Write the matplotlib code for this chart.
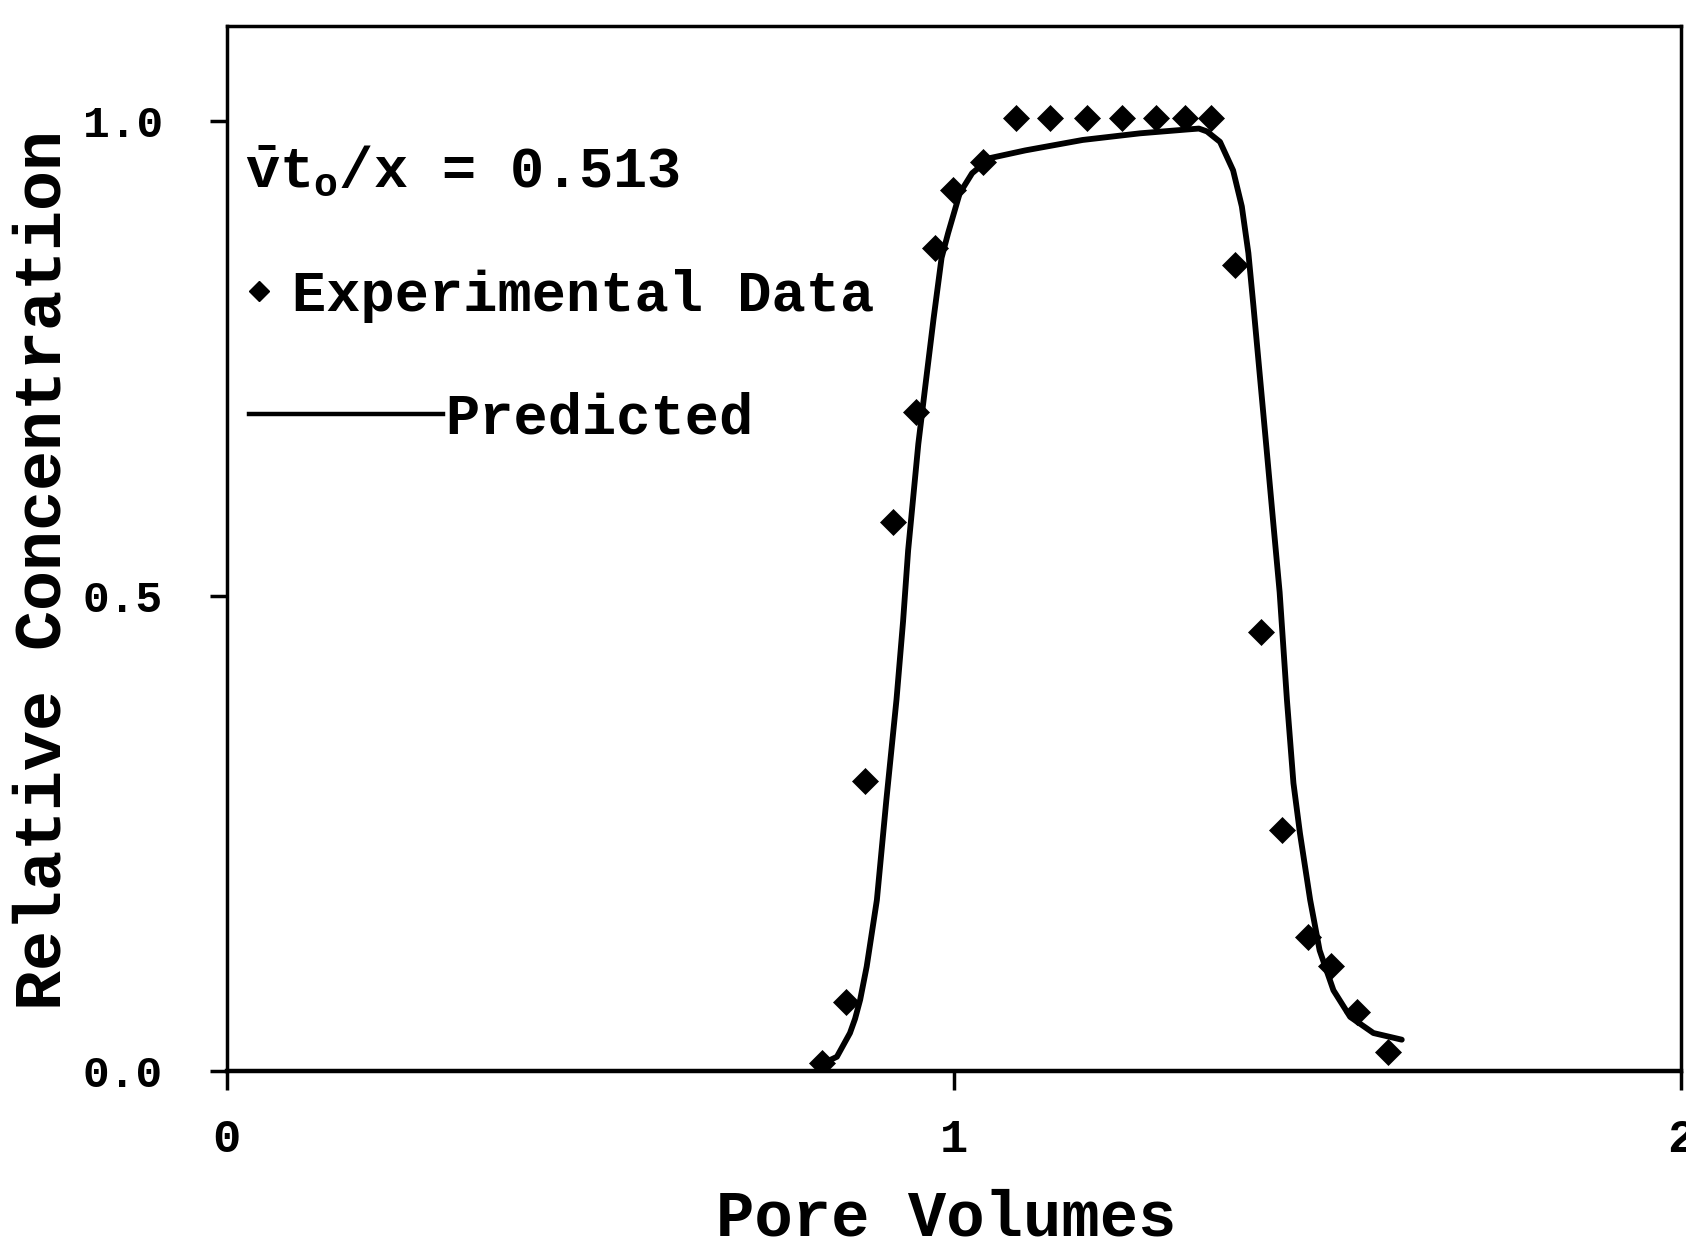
import matplotlib
matplotlib.use('Agg')
import matplotlib.pyplot as plt
from matplotlib.lines import Line2D

# breakthrough data: relative concentration vs pore volumes
exp_x = [0.818, 0.851, 0.877, 0.916, 0.948, 0.974, 0.999, 1.040,
         1.085, 1.132, 1.183, 1.231, 1.278, 1.318, 1.353,
         1.386, 1.422, 1.451, 1.487, 1.518, 1.554, 1.597]
exp_y = [0.008, 0.073, 0.305, 0.578, 0.694, 0.866, 0.927, 0.957,
         1.003, 1.003, 1.003, 1.003, 1.003, 1.003, 1.003,
         0.848, 0.462, 0.254, 0.141, 0.111, 0.062, 0.020]

# model curve
pred_x = [0.820, 0.839, 0.857, 0.864, 0.871, 0.880, 0.894, 0.907, 0.921,
          0.930, 0.937, 0.944, 0.951, 0.960, 0.972, 0.983, 0.992, 1.008,
          1.025, 1.050, 1.098, 1.177, 1.256, 1.320, 1.337, 1.348, 1.366,
          1.384, 1.396, 1.405, 1.412, 1.421, 1.430, 1.439, 1.448, 1.458,
          1.467, 1.476, 1.490, 1.503, 1.522, 1.545, 1.577, 1.616]
pred_y = [0.008, 0.015, 0.040, 0.055, 0.075, 0.110, 0.180, 0.285, 0.391,
          0.473, 0.548, 0.604, 0.660, 0.717, 0.792, 0.856, 0.882, 0.924,
          0.945, 0.961, 0.969, 0.980, 0.987, 0.991, 0.992, 0.989, 0.978,
          0.948, 0.910, 0.861, 0.805, 0.730, 0.655, 0.579, 0.504, 0.391,
          0.303, 0.250, 0.180, 0.127, 0.085, 0.057, 0.040, 0.033]

x_ticks = [0, 1, 2]
x_labels = ['0', '1', '2']
y_ticks = [0.0, 0.5, 1.0]
y_labels = ['0.0', '0.5', '1.0']

plt.rcParams['font.family'] = 'Liberation Mono'
plt.rcParams['font.weight'] = 'bold'
plt.rcParams['mathtext.fontset'] = 'custom'
plt.rcParams['mathtext.rm'] = 'Liberation Mono:bold'
plt.rcParams['mathtext.it'] = 'Liberation Mono:bold'

fig = plt.figure(figsize=(16.86, 12.48), dpi=100)
ax = fig.add_axes([0.1346, 0.1418, 0.8624, 0.8374])

ax.plot(pred_x, pred_y, color='black', lw=4.2,
        solid_capstyle='round', solid_joinstyle='round')
ax.plot(exp_x, exp_y, 'D', color='black', ms=13, mew=0.5, ls='none')

ax.set_xlim(0, 2)
ax.set_ylim(0, 1.1)
ax.set_xticks(x_ticks, x_labels)
ax.set_yticks(y_ticks, y_labels)
ax.tick_params(axis='x', direction='out', length=14, width=2.5, pad=20, labelsize=34)
ax.tick_params(axis='y', direction='out', length=12, width=2.5, pad=34, labelsize=32)
for s in ax.spines.values():
    s.set_linewidth(2.5)
ax.spines['bottom'].set_linewidth(3.2)

ax.set_xlabel('Pore Volumes', fontsize=46, fontweight='bold')
ax.xaxis.set_label_coords(0.4945, -0.141)
ax.xaxis.label.set_va('center')
ax.set_ylabel('Relative Concentration', fontsize=48, fontweight='bold')
ax.yaxis.set_label_coords(-0.1265, 0.479)
ax.yaxis.label.set_va('center')

ax.text(0.0124, 0.860, r'$\bar{v}t_o$/x = 0.513', transform=ax.transAxes,
        fontsize=41, ha='left', va='center')

h_exp = Line2D([], [], marker='D', color='black', ls='none', ms=10)
h_pred = Line2D([], [], color='black', lw=3.2)
leg1 = ax.legend([h_exp], ['Experimental Data'], loc='center left',
                 bbox_to_anchor=(0.0132, 0.742), frameon=False, handlelength=0.45,
                 handletextpad=0.354, borderpad=0, borderaxespad=0, fontsize=41)
ax.add_artist(leg1)
ax.legend([h_pred], ['Predicted'], loc='center left',
          bbox_to_anchor=(0.0155, 0.624), frameon=False, handlelength=3.40,
          handletextpad=0.035, borderpad=0, borderaxespad=0, fontsize=41)

fig.savefig('out.png', dpi=100)
